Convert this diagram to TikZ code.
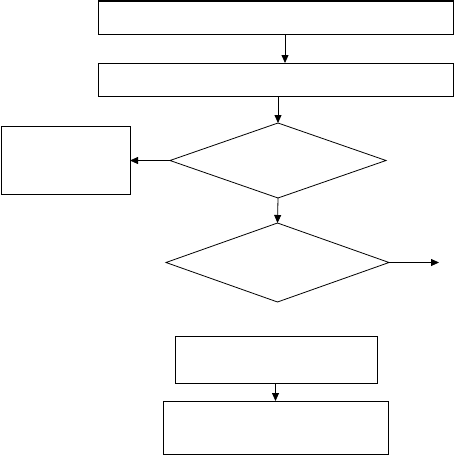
\documentclass[tikz,border=0pt]{standalone}
\usetikzlibrary{shapes.geometric,arrows.meta}
\begin{document}
\begin{tikzpicture}[x=1pt,y=-1pt,
  box/.style={draw,rectangle,line width=1pt,inner sep=0pt,outer sep=0pt},
  dia/.style={draw,diamond,line width=0.8pt,inner sep=0pt,outer sep=0pt},
  arr/.style={line width=0.8pt,-{Triangle[length=8pt,width=7pt]}}]
\useasboundingbox (0,0) rectangle (454,455);
\node[box,minimum width=355pt,minimum height=33pt] (b1) at (275.5,17.5) {};
\node[box,minimum width=355pt,minimum height=33pt] (b2) at (275.5,79.5) {};
\node[box,minimum width=129pt,minimum height=68pt] (b3) at (65.5,160) {};
\node[dia,minimum width=216pt,minimum height=75pt] (d1) at (278,160.5) {};
\node[dia,minimum width=223pt,minimum height=79pt] (d2) at (277.5,262.5) {};
\node[box,minimum width=202pt,minimum height=47pt] (b4) at (276.5,360) {};
\node[box,minimum width=225pt,minimum height=53pt] (b5) at (275.7,427.5) {};
\coordinate (out) at (439,262.5);
\draw[arr] ([xshift=9.5pt]b1.south) -- ([xshift=9.5pt]b2.north);
\draw[arr] (b2.south -| d1.north) -- (d1.north);
\draw[arr] (d1.west) -- (d1.west -| b3.east);
\draw[arr] (d1.south) -- (d2.north);
\draw[arr] (d2.east) -- (out);
\draw[arr] ([xshift=-1pt]b4.south) -- ([xshift=-1pt]b4.south |- b5.north);
\end{tikzpicture}
\end{document}
